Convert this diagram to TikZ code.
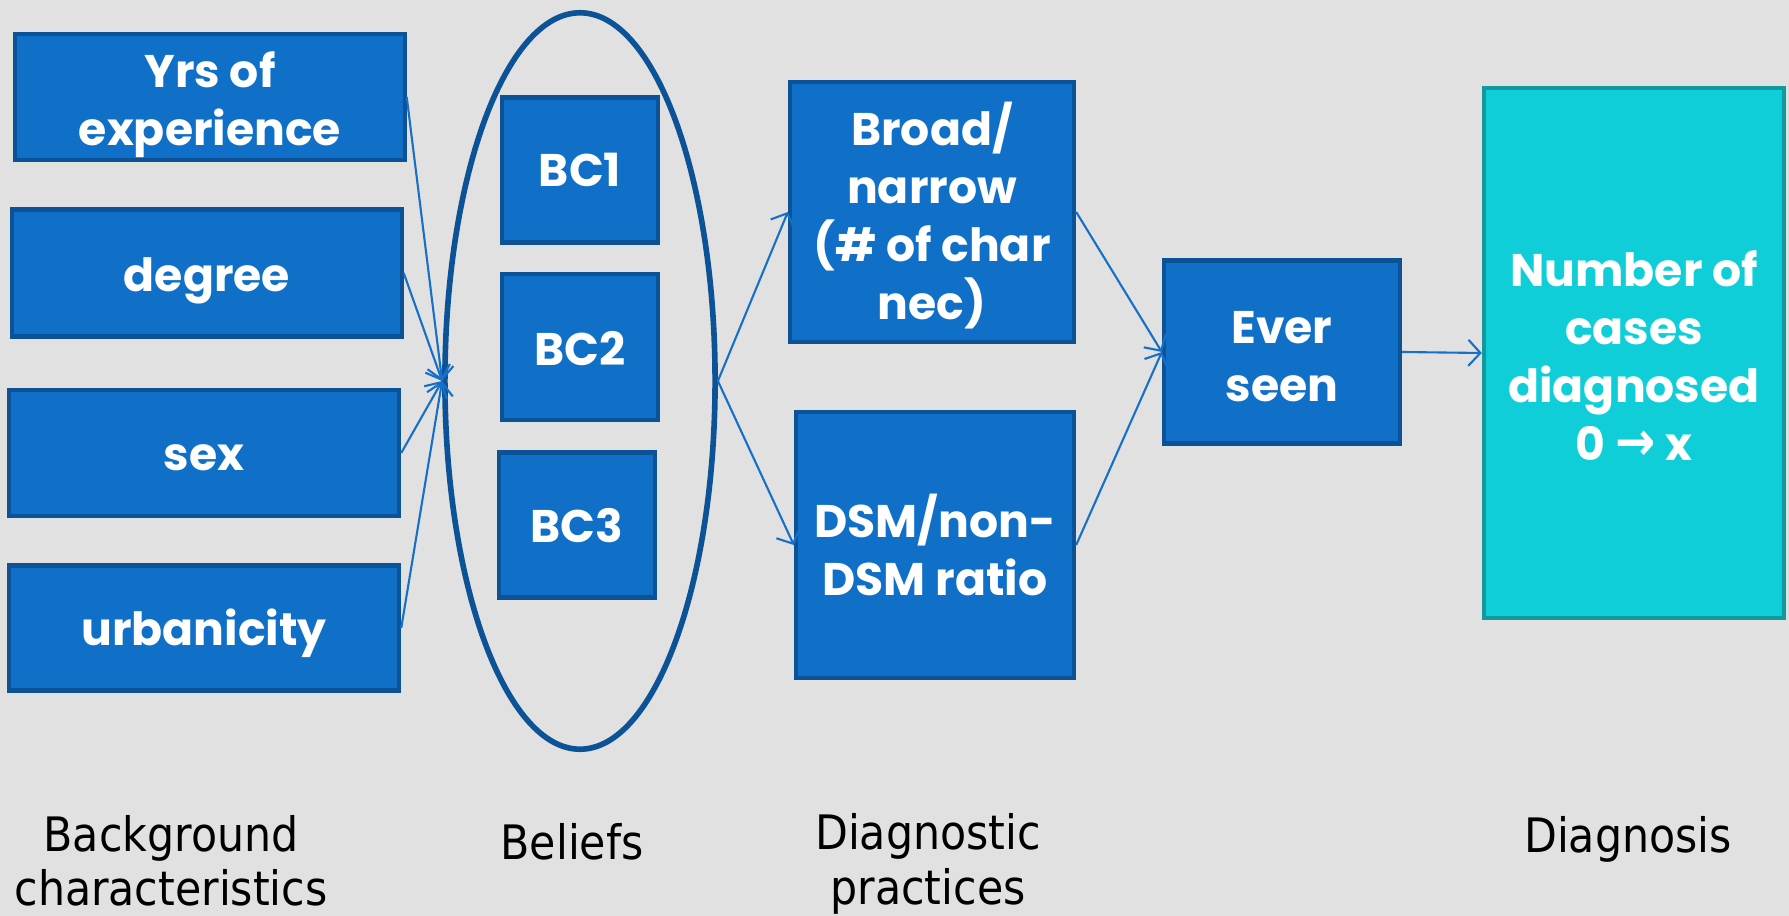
\documentclass[tikz,border=0pt]{standalone}
\usepackage{fontspec}
\setmainfont{Poppins}
\newfontfamily\capfont{DejaVu Sans Condensed}
\newfontfamily\symfont{DejaVu Sans}
\usetikzlibrary{shapes.geometric,arrows.meta}
\definecolor{bgcol}{HTML}{E1E1E1}
\definecolor{boxblue}{HTML}{1070C8}
\definecolor{boxedge}{HTML}{0B5396}
\definecolor{cyanfill}{HTML}{10CED8}
\definecolor{cyanedge}{HTML}{11999E}
\definecolor{linkblue}{HTML}{1670C8}
\tikzset{
  varbox/.style={draw=boxedge,fill=boxblue,line width=1.2pt,text=white,
    font=\bfseries\fontsize{13}{16.5}\selectfont,align=center,inner sep=0pt,
    execute at begin node={\vbox\bgroup\kern#1\hbox\bgroup},
    execute at end node={\egroup\egroup}},
  varbox/.default=0pt,
  link/.style={draw=linkblue,line width=0.6pt,->},
  caption/.style={font=\capfont\fontsize{13.5}{15.5}\selectfont,align=center},
  >={Straight Barb[length=1.2mm,width=2.6mm]}
}
\newcommand{\bigarrow}{{\symfont\bfseries\scalebox{1.05}[1.2]{\char"2192}}}
\begin{document}
\begin{tikzpicture}[x=0.01cm,y=-0.01cm]
  \useasboundingbox (0,0) rectangle (1789,916);
  \fill[bgcol] (0,0) rectangle (1789,916);
  \node[varbox=0.16cm,minimum width=3.89cm,minimum height=1.26cm] (yrs) at (210,97) {Yrs of\\experience};
  \node[varbox=0.16cm,minimum width=3.89cm,minimum height=1.27cm] (degree) at (207,273) {degree};
  \node[varbox=0.09cm,minimum width=3.90cm,minimum height=1.26cm] (sex) at (204,453) {sex};
  \node[varbox=0.11cm,minimum width=3.90cm,minimum height=1.25cm] (urban) at (204,628) {urbanicity};
  \node[draw=boxedge,line width=1.6pt,ellipse,minimum width=2.7cm,minimum height=7.36cm,inner sep=0pt] (beliefs) at (580,381) {};
  \node[varbox,minimum width=1.56cm,minimum height=1.45cm] (bc1) at (580,170) {BC1};
  \node[varbox=0.04cm,minimum width=1.56cm,minimum height=1.46cm] (bc2) at (580,347) {BC2};
  \node[varbox=0.02cm,minimum width=1.56cm,minimum height=1.45cm] (bc3) at (577,525) {BC3};
  \node[varbox=0.07cm,minimum width=2.84cm,minimum height=2.6cm] (broad) at (932,212) {Broad/\\narrow\\(\# of char\\nec)};
  \node[varbox,minimum width=2.78cm,minimum height=2.66cm] (dsm) at (935,545) {DSM/non-\\DSM ratio};
  \node[varbox=0.10cm,minimum width=2.36cm,minimum height=1.83cm] (ever) at (1282,352) {Ever\\seen};
  \node[varbox=0.06cm,draw=cyanedge,fill=cyanfill,minimum width=3.0cm,minimum height=5.29cm] (cases) at (1634,353)
    {Number of\\cases\\diagnosed\\0 \bigarrow\ x};
  \draw[link] (yrs.east) -- (beliefs.west);
  \draw[link] (degree.east) -- (beliefs.west);
  \draw[link] (sex.east) -- (beliefs.west);
  \draw[link] (urban.east) -- (beliefs.west);
  \draw[link] (beliefs.east) -- (broad.west);
  \draw[link] (beliefs.east) -- (dsm.west);
  \draw[link] (broad.east) -- (ever.west);
  \draw[link] (dsm.east) -- (ever.west);
  \draw[link] (ever.east) -- (cases.west);
  \node[caption] (capbg) at (171,861) {Background\\characteristics};
  \node[caption] (capbel) at (572,842) {Beliefs};
  \node[caption] (capdp) at (928,864) {Diagnostic\\practices};
  \node[caption] (capdx) at (1628,839) {Diagnosis};
\end{tikzpicture}
\end{document}
